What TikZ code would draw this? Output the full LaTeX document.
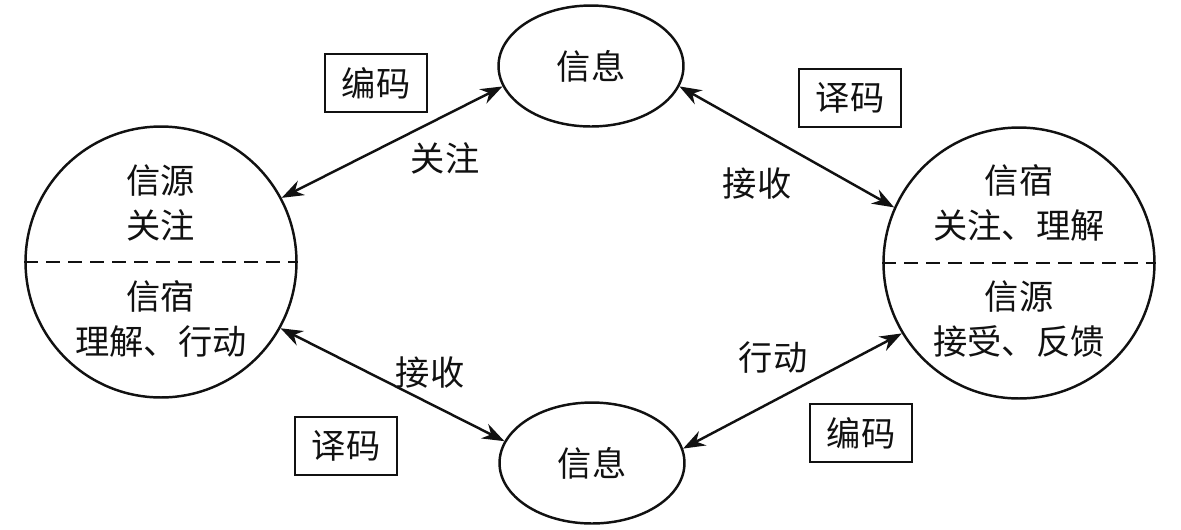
\documentclass[tikz,border=0pt]{standalone}
\usepackage{fontspec}
\newfontfamily\cjk{Noto Sans CJK SC}
\usetikzlibrary{arrows.meta,shapes.geometric,positioning,calc}
\definecolor{ink}{HTML}{111111}

\begin{document}
\begin{tikzpicture}[
    x=0.02cm, y=-0.02cm,
    font=\cjk\fontsize{19.5}{25.5}\selectfont, ink,
    party/.style={draw=ink, circle, line width=1.4pt, minimum size=5.42cm, inner sep=0pt},
    message/.style={draw=ink, ellipse, line width=1.4pt, minimum width=3.7cm, minimum height=2.42cm, inner sep=0pt},
    codebox/.style={draw=ink, line width=1.2pt, minimum width=2.04cm, minimum height=1.16cm, inner sep=0pt},
    link/.style={{Stealth[length=4.4mm,width=3.2mm]}-{Stealth[length=4.4mm,width=3.2mm]}, line width=1.4pt, draw=ink},
    split/.style={line width=1.4pt, dash pattern=on 8pt off 4.5pt},
  ]
\useasboundingbox (0,0) rectangle (1181,529);

% --- the two parties ----------------------------------------------------------
\node[party] (src) at (161,262) {};
\node[party] (snk) at (1019,263) {};
\draw[split] (src.west) -- (src.east);
\draw[split] (snk.west) -- (snk.east);
\node[align=center] (srctop) at (161,203) {信源\\关注};
\node[align=center] (srcbot) at (161,319) {信宿\\理解、行动};
\node[align=center] (snktop) at (1019,203) {信宿\\关注、理解};
\node[align=center] (snkbot) at (1019,319) {信源\\接受、反馈};

% --- the two messages ---------------------------------------------------------
\node[message] (msgtop) at (591,66) {信息};
\node[message] (msgbot) at (592,463) {信息};

% --- links ----------------------------------------------------------------------
\draw[link] (src.28) -- (msgtop.193);
\draw[link] (msgtop.347) -- (snk.156);
\draw[link] (src.-29) -- (msgbot.166);
\draw[link] (msgbot.9) -- (snk.211);

\node (lbfocus) at (445,158) {关注};
\node (lbrecv) at (757,184) {接收};
\node (lbrecvb) at (430,373) {接收};
\node (lbact) at (773,358) {行动};

% --- coding boxes -----------------------------------------------------------------
\node[codebox] (enctop) at (376,83) {编码};
\node[codebox] (dectop) at (850,98) {译码};
\node[codebox] (decbot) at (346,446) {译码};
\node[codebox] (encbot) at (861,433) {编码};

\end{tikzpicture}
\end{document}
